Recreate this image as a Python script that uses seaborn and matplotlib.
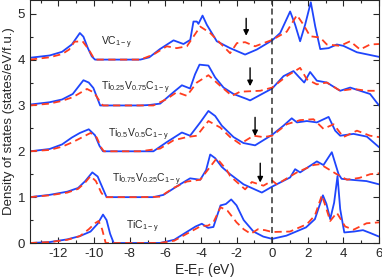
import numpy as np
import pandas as pd
import matplotlib
matplotlib.use("Agg")
import matplotlib.pyplot as plt
import seaborn as sns

# Energies (eV) and DOS values, one pair of arrays per curve.
# Values are relative to each curve's own baseline; the offset is added when drawing.

# VC_{1-y}  (offset 4)
vc_e_blue = [-13.6, -12.5, -11.8, -11.25, -10.8, -10.6, -10.35, -10.13, -9.95, -7.4, -6.9, -6.3, -5.54, -4.98,
             -4.6, -4.42, -4.23, -4.14, -3.91, -3.67, -3.11, -2.36, -1.52, -0.86, 0.0, 0.45, 1.01, 1.29, 1.57,
             1.85, 2.17, 2.42, 2.70, 3.17, 3.63, 4.0, 4.76, 6.0]
vc_blue = [0.04, 0.09, 0.17, 0.33, 0.58, 0.50, 0.25, 0.07, 0.0, 0.0, 0.05, 0.23, 0.42, 0.34,
           0.43, 0.83, 0.83, 0.78, 0.96, 0.76, 0.40, 0.25, 0.11, 0.22, 0.42, 0.58, 1.05, 0.76, 0.40,
           0.76, 1.25, 0.72, 0.23, 0.25, 0.33, 0.30, 0.16, 0.06]
vc_e_red = [-13.6, -12.5, -11.8, -11.4, -11.1, -10.65, -10.3, -10.0, -9.9, -7.4, -6.67, -5.92, -5.36, -4.79,
            -4.04, -3.48, -2.92, -2.36, -1.98, -1.52, -0.96, 0.0, 0.82, 1.39, 1.76, 2.13, 2.70, 3.07, 3.82,
            4.38, 4.94, 5.5, 6.0]
vc_red = [0.0, 0.05, 0.12, 0.22, 0.39, 0.40, 0.22, 0.02, 0.0, 0.0, 0.11, 0.29, 0.25, 0.29,
          0.72, 0.58, 0.36, 0.14, 0.36, 0.38, 0.29, 0.43, 0.61, 0.97, 0.76, 0.51, 0.48, 0.33, 0.30,
          0.40, 0.22, 0.33, 0.34]

# Ti0.25V0.75C_{1-y}  (offset 3)
t25_e_blue = [-13.6, -12.5, -11.8, -11.2, -10.6, -10.3, -10.04, -9.66, -7.42, -6.9, -6.29, -5.54, -5.07, -4.61,
              -4.33, -4.08, -3.58, -3.2, -2.73, -2.17, -1.42, -1.24, 0.0, 0.64, 1.2, 1.53, 1.8, 2.13, 2.51,
              3.07, 3.82, 4.38, 4.94, 5.5, 6.0]
t25_blue = [0.02, 0.07, 0.13, 0.25, 0.55, 0.50, 0.38, 0.0, 0.0, 0.01, 0.04, 0.29, 0.44, 0.37,
            0.68, 0.89, 0.87, 0.61, 0.39, 0.25, 0.14, 0.11, 0.37, 0.64, 0.75, 0.61, 0.50, 0.73, 0.54,
            0.50, 0.32, 0.39, 0.32, 0.25, 0.0]
t25_e_red = [-13.6, -12.5, -11.8, -11.2, -10.8, -10.4, -10.0, -9.7, -9.5, -7.42, -6.67, -5.92, -5.36, -4.79,
             -4.23, -3.58, -2.92, -2.26, -1.8, -1.24, -0.67, 0.0, 0.82, 1.57, 1.95, 2.51, 3.07, 3.82,
             4.57, 5.32, 6.0]
t25_red = [0.0, 0.04, 0.1, 0.18, 0.27, 0.36, 0.28, 0.1, 0.0, 0.0, 0.0, 0.14, 0.29, 0.21,
           0.50, 0.66, 0.43, 0.21, 0.30, 0.31, 0.32, 0.39, 0.64, 0.82, 0.57, 0.46, 0.50, 0.32,
           0.36, 0.32, 0.32]

# Ti0.5V0.5C_{1-y}  (offset 2)
t50_e_blue = [-13.6, -12.5, -11.8, -11.25, -10.8, -10.3, -9.95, -9.7, -9.5, -7.42, -6.67, -5.92, -5.07, -4.61,
              -4.04, -3.58, -3.2, -2.83, -2.17, -1.61, -0.96, 0.0, 0.64, 1.1, 1.39, 1.95, 2.51, 3.17, 3.54,
              3.82, 4.57, 5.32, 6.0]
t50_blue = [0.0, 0.05, 0.15, 0.30, 0.40, 0.48, 0.35, 0.12, 0.0, 0.0, 0.0, 0.20, 0.41, 0.34,
            0.63, 0.88, 0.77, 0.56, 0.31, 0.18, 0.13, 0.36, 0.56, 0.72, 0.63, 0.66, 0.63, 0.75, 0.45,
            0.34, 0.38, 0.32, 0.09]
t50_e_red = [-13.6, -12.5, -11.8, -11.2, -10.7, -10.2, -9.85, -9.6, -9.45, -7.42, -6.29, -5.54, -4.79, -4.23,
             -3.58, -2.92, -2.36, -1.8, -1.05, -0.49, 0.0, 0.82, 1.57, 2.32, 2.88, 3.45, 4.0, 4.76, 5.5, 6.0]
t50_red = [0.0, 0.03, 0.10, 0.20, 0.30, 0.40, 0.30, 0.08, 0.0, 0.0, 0.06, 0.24, 0.31, 0.34,
           0.66, 0.52, 0.31, 0.16, 0.34, 0.31, 0.34, 0.59, 0.68, 0.70, 0.49, 0.59, 0.31, 0.45, 0.34, 0.31]

# Ti0.75V0.25C_{1-y}  (offset 1)
t75_e_blue = [-13.6, -12.5, -11.5, -10.9, -10.5, -10.1, -9.8, -9.5, -9.3, -7.4, -6.67, -6.1, -5.17, -4.61,
              -4.04, -3.71, -3.48, -3.2, -2.83, -2.36, -1.61, -0.58, 0.0, 1.01, 1.29, 1.57, 2.51, 2.88,
              3.35, 3.73, 3.9, 4.4, 5.3, 6.0]
t75_blue = [0.0, 0.05, 0.12, 0.20, 0.35, 0.54, 0.45, 0.18, 0.0, 0.0, 0.0, 0.05, 0.28, 0.41,
            0.38, 0.59, 0.93, 0.85, 0.66, 0.50, 0.28, 0.10, 0.23, 0.43, 0.61, 0.54, 0.78, 0.70,
            0.98, 0.50, 0.40, 0.38, 0.35, 0.28]
t75_e_red = [-13.6, -12.5, -11.5, -10.9, -10.5, -10.2, -9.9, -9.6, -9.4, -7.4, -6.29, -5.54, -4.79, -4.04,
             -3.11, -2.55, -2.36, -1.52, -1.14, -0.49, 0.0, 0.26, 1.39, 2.32, 2.7, 3.63, 4.2, 4.9, 5.5, 6.0]
t75_red = [0.0, 0.04, 0.10, 0.18, 0.32, 0.46, 0.35, 0.10, 0.0, 0.0, 0.01, 0.20, 0.34, 0.38,
           0.85, 0.59, 0.46, 0.17, 0.33, 0.25, 0.36, 0.28, 0.54, 0.70, 0.72, 0.50, 0.38, 0.42, 0.50, 0.52]

# TiC_{1-y}  (offset 0)
tic_e_blue = [-13.6, -12.5, -11.5, -10.8, -10.2, -9.8, -9.5, -9.3, -9.1, -8.9, -6.3, -5.5, -4.8, -4.3, -3.95,
              -3.6, -3.3, -2.9, -2.6, -2.3, -2.0, -1.6, -1.05, -0.5, 0.0, 0.8, 1.9, 2.4, 2.85, 3.05, 3.26,
              3.48, 3.67, 3.82, 4.05, 4.6, 5.1, 5.5, 6.0]
tic_blue = [0.0, 0.02, 0.08, 0.15, 0.25, 0.42, 0.62, 0.50, 0.20, 0.0, 0.0, 0.07, 0.24, 0.36, 0.42,
            0.33, 0.35, 0.82, 0.85, 0.95, 0.82, 0.50, 0.25, 0.14, 0.09, 0.16, 0.34, 0.52, 1.04, 0.85, 0.52,
            0.88, 1.46, 0.74, 0.23, 0.25, 0.28, 0.22, 0.14]
tic_e_red = [-13.6, -12.5, -11.5, -10.8, -10.3, -9.95, -9.75, -9.55, -9.35, -6.3, -5.5, -4.8, -4.0, -3.6, -3.3,
             -2.9, -2.5, -2.0, -1.6, -1.2, -0.8, -0.4, 0.0, 1.0, 1.95, 2.4, 2.79, 3.0, 3.26, 3.63, 4.1,
             4.57, 5.3, 6.0]
tic_red = [0.0, 0.02, 0.07, 0.15, 0.30, 0.43, 0.48, 0.30, 0.0, 0.0, 0.05, 0.20, 0.37, 0.38, 0.45,
           0.78, 0.70, 0.45, 0.30, 0.20, 0.30, 0.28, 0.24, 0.25, 0.41, 0.60, 1.04, 0.80, 0.48, 0.66, 0.36,
           0.29, 0.43, 0.45]

offsets = [4, 3, 2, 1, 0]
labels = [r"VC$_{\mathregular{1-y}}$",
          r"Ti$_{\mathregular{0.25}}$V$_{\mathregular{0.75}}$C$_{\mathregular{1-y}}$",
          r"Ti$_{\mathregular{0.5}}$V$_{\mathregular{0.5}}$C$_{\mathregular{1-y}}$",
          r"Ti$_{\mathregular{0.75}}$V$_{\mathregular{0.25}}$C$_{\mathregular{1-y}}$",
          r"TiC$_{\mathregular{1-y}}$"]
label_x = [-9.6, -9.6, -9.2, -9.0, -8.2]
label_y = [4.37, 3.39, 2.35, 1.38, 0.35]

# arrows marking the pseudogap feature
arrow_x = [-1.46, -1.24, -0.96, -0.67]
arrow_top = [4.90, 3.82, 2.74, 1.74]
arrow_tip = [4.52, 3.42, 2.33, 1.32]

blue_sets = [(vc_e_blue, vc_blue), (t25_e_blue, t25_blue), (t50_e_blue, t50_blue),
             (t75_e_blue, t75_blue), (tic_e_blue, tic_blue)]
red_sets = [(vc_e_red, vc_red), (t25_e_red, t25_red), (t50_e_red, t50_red),
            (t75_e_red, t75_red), (tic_e_red, tic_red)]

sns.set_style("ticks")
plt.rcParams["font.family"] = ["Liberation Sans", "DejaVu Sans"]
plt.rcParams["axes.unicode_minus"] = False
plt.rcParams["mathtext.fontset"] = "custom"
plt.rcParams["mathtext.rm"] = "Liberation Sans"

fig = plt.figure(figsize=(3.82, 2.79), dpi=100)
ax = fig.add_axes([30 / 382, 36 / 279, 349 / 382, 243 / 279])

blue = "#1f45fc"
red = "#ff3d1f"

for (eb, vb), (er, vr), off in zip(blue_sets, red_sets, offsets):
    db = pd.DataFrame({"E": eb, "dos": np.array(vb) + off})
    dr = pd.DataFrame({"E": er, "dos": np.array(vr) + off})
    sns.lineplot(data=db, x="E", y="dos", ax=ax, color=blue, lw=1.3, estimator=None, sort=False)
    sns.lineplot(data=dr, x="E", y="dos", ax=ax, color=red, lw=1.3, estimator=None, sort=False,
                 dashes=False, linestyle=(0, (4, 2.5)))

ax.axvline(0, color="#333333", lw=1.1, ls=(0, (4, 2.5)))

for lab, lx, ly in zip(labels, label_x, label_y):
    ax.text(lx, ly, lab, fontsize=7.5, ha="left", va="center")

for xa, yt, yb in zip(arrow_x, arrow_top, arrow_tip):
    ax.annotate("", xy=(xa, yb), xytext=(xa, yt),
                arrowprops=dict(arrowstyle="-|>", color="black", lw=1.0, mutation_scale=8,
                                shrinkA=0, shrinkB=0))

ax.set_xlim(-13.6, 6)
ax.set_ylim(0, 5.3)
ax.set_xticks([-12, -10, -8, -6, -4, -2, 0, 2, 4, 6])
ax.set_xticks(np.arange(-13, 6.5, 1), minor=True)
ax.set_yticks([0, 1, 2, 3, 4, 5])
ax.set_yticks(np.arange(0, 5.4, 0.5), minor=True)
ax.tick_params(which="both", direction="in", top=True, right=True, labelsize=9.5, width=0.8)
ax.tick_params(which="major", length=4)
ax.tick_params(which="minor", length=2.5)
for s in ax.spines.values():
    s.set_linewidth(0.8)

ax.set_xlabel("E-E$_{\\mathregular{F}}$ (eV)", fontsize=10, labelpad=1)
ax.set_ylabel("Density of states (states/eV/f.u.)", fontsize=9.5, labelpad=2)

fig.savefig("out.png", dpi=100)
